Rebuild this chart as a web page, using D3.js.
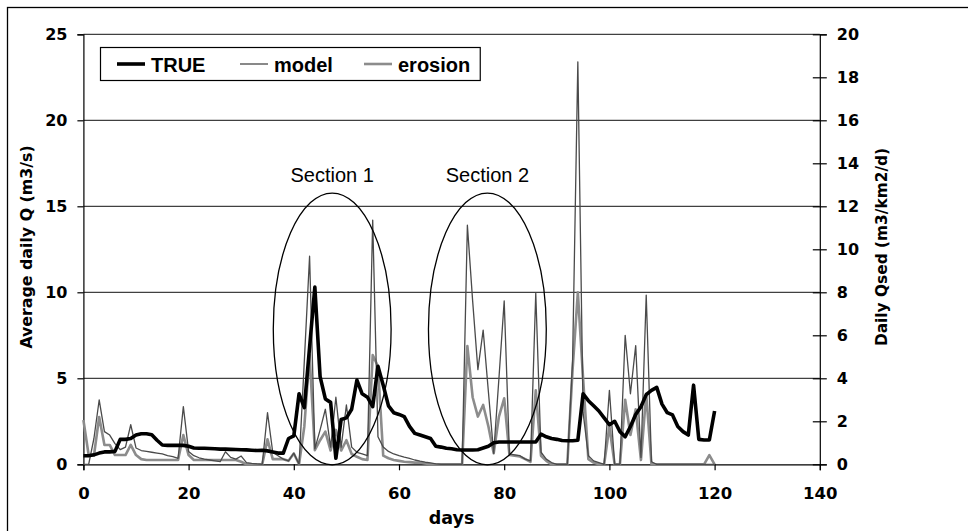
<!DOCTYPE html>
<html>
<head>
<meta charset="utf-8">
<script src="https://cdn.jsdelivr.net/npm/d3@7"></script>
<style>
  body { margin: 0; background: #fff; }
  svg { display: block; }
</style>
</head>
<body>
<div id="chart"></div>
<script>
// daily values, index = day (0..120)
const trueQ = [
  0.5, 0.5, 0.55, 0.65, 0.72, 0.72, 0.75, 1.45, 1.45, 1.5,
  1.7, 1.78, 1.78, 1.72, 1.4, 1.12, 1.1, 1.1, 1.1, 1.1,
  1.05, 0.95, 0.93, 0.93, 0.92, 0.9, 0.88, 0.88, 0.87, 0.86,
  0.85, 0.84, 0.82, 0.8, 0.82, 0.78, 0.72, 0.65, 0.65, 1.5,
  1.65, 4.1, 3.3, 6.8, 10.3, 5.1, 3.8, 3.6, 0.35, 2.6,
  2.7, 3.2, 4.9, 4.1, 3.9, 3.35, 5.7, 4.6, 3.4, 3.0,
  2.9, 2.77, 2.2, 1.8, 1.7, 1.6, 1.5, 1.05, 1.0, 0.93,
  0.9, 0.85, 0.83, 0.83, 0.83, 0.85, 0.95, 1.05, 1.25, 1.3,
  1.3, 1.3, 1.3, 1.3, 1.3, 1.3, 1.3, 1.75, 1.6, 1.5,
  1.45, 1.38, 1.37, 1.37, 1.4, 4.1, 3.7, 3.4, 3.1, 2.7,
  2.3, 2.5, 1.9, 1.6, 2.2, 2.9, 3.35, 4.05, 4.3, 4.47,
  3.5, 3.0, 2.87, 2.2, 1.9, 1.7, 4.6, 1.45, 1.41, 1.41,
  3.1
];

const modelQ = [
  0, 0, 1.5, 3.74, 1.9, 1.7, 1.2, 0.85, 1.0, 2.3,
  0.95, 0.8, 0.75, 0.7, 0.65, 0.6, 0.5, 0.45, 0.35, 3.35,
  0.75, 0.5, 0.38, 0.3, 0.25, 0.2, 0.15, 0.73, 0.4, 0.3,
  0.48, 0.1, 0.05, 0.02, 0, 3.0, 0.7, 0.5, 0.3, 0.2,
  0.65, 0, 6, 12.1, 0.9, 2.0, 3.2, 1.0, 3.9, 1.0,
  3.45, 1.0, 0.7, 0.6, 0.5, 14.2, 1.6, 1.0, 0.75, 0.6,
  0.5, 0.42, 0.35, 0.25, 0.18, 0.12, 0.08, 0.03, 0, 0,
  0, 0, 0, 13.9, 9.5, 5.5, 7.8, 4.2, 0.64, 5,
  9.5, 0.6, 0.55, 0.5, 0.3, 0.2, 9.94, 0.7, 0.3, 0.1,
  0, 0, 0, 6, 23.4, 3, 0.5, 0.2, 0.1, 0,
  4.3, 0, 0, 7.5, 4.1, 6.9, 0.4, 9.84, 0.15, 0,
  0, 0, 0, 0, 0, 0, 0, 0, 0, 0,
  0
];

// erosion is on the right axis (m3/km2/d)
const erosionQsed = [
  2.06, 0.43, 0.4, 2.2, 0.9, 0.9, 0.43, 0.43, 0.43, 0.9,
  0.43, 0.24, 0.2, 0.2, 0.2, 0.2, 0.2, 0.2, 0.2, 1.36,
  0.43, 0.2, 0.2, 0.2, 0.2, 0.2, 0.2, 0.2, 0.2, 0.2,
  0.12, 0, 0, 0, 0, 1.16, 0.24, 0.24, 0.24, 0.16,
  0.5, 0, 1.76, 5.08, 0.66, 1.12, 1.52, 0.64, 1.6, 0.64,
  1.12, 0.48, 0.35, 0.24, 0.2, 5.08, 4.56, 0.4, 0.28, 0.2,
  0.16, 0.12, 0.1, 0.08, 0.08, 0.04, 0, 0, 0, 0,
  0, 0, 0, 5.5, 3.12, 2.22, 2.76, 1.76, 0.51, 2.22,
  3.07, 0.43, 0.4, 0.36, 0.24, 0.11, 3.44, 0.4, 0.16, 0,
  0, 0, 0, 4.4, 8.0, 4.0, 0.24, 0.08, 0, 0,
  1.76, 0, 0, 3.0, 1.36, 2.56, 0.2, 3.28, 0, 0,
  0, 0, 0, 0, 0, 0, 0, 0, 0, 0.43,
  0
];

const xTicks = [0, 20, 40, 60, 80, 100, 120, 140];
const yLeftTicks = [0, 5, 10, 15, 20, 25];
const yRightTicks = [0, 2, 4, 6, 8, 10, 12, 14, 16, 18, 20];

const seriesNames = ["TRUE", "model", "erosion"];

// annotated sections: centre (day, Q) and radii (days, Q)
const sectionLabels = ["Section 1", "Section 2"];
const sectionCenterDay = [47.3, 76.8];
const sectionCenterQ = [7.87, 7.87];
const sectionRadiusDay = [11.2, 11.2];
const sectionRadiusQ = [7.9, 7.9];

const W = 968, H = 531;
const plotLeft = 83.4, plotRight = 819.8, plotTop = 34.3, plotBottom = 464.3;

const numFont = "'DejaVu Sans', sans-serif";
const txtFont = "'Liberation Sans', Arial, sans-serif";

const svg = d3.select("#chart").append("svg")
  .attr("width", W).attr("height", H);

// outer frame (runs off the right and bottom edge)
svg.append("rect")
  .attr("x", 7.5).attr("y", 7.5)
  .attr("width", 1000).attr("height", 600)
  .attr("fill", "none").attr("stroke", "#000").attr("stroke-width", 1.3);

const x = d3.scaleLinear().domain([0, 140]).range([plotLeft, plotRight]);
const yL = d3.scaleLinear().domain([0, 25]).range([plotBottom, plotTop]);
const yR = d3.scaleLinear().domain([0, 20]).range([plotBottom, plotTop]);

// gridlines
svg.append("g").selectAll("line")
  .data(yLeftTicks.filter(d => d > 0))
  .enter().append("line")
  .attr("x1", plotLeft).attr("x2", plotRight)
  .attr("y1", d => yL(d)).attr("y2", d => yL(d))
  .attr("stroke", "#111").attr("stroke-width", 1);

// left axis
const gL = svg.append("g")
  .attr("transform", `translate(${plotLeft},0)`)
  .call(d3.axisLeft(yL).tickValues(yLeftTicks).tickSize(6).tickPadding(10));

// right axis with crossing ticks
const gR = svg.append("g")
  .attr("transform", `translate(${plotRight},0)`)
  .call(d3.axisRight(yR).tickValues(yRightTicks).tickSize(7).tickPadding(10));
gR.selectAll(".tick line").attr("x1", -7).attr("x2", 7);

// bottom axis
const gB = svg.append("g")
  .attr("transform", `translate(0,${plotBottom})`)
  .call(d3.axisBottom(x).tickValues(xTicks).tickSize(6).tickPadding(17));

[gL, gR, gB].forEach(g => {
  g.select(".domain").attr("stroke", "#000").attr("stroke-width", 1.2);
  g.selectAll(".tick line").attr("stroke", "#000").attr("stroke-width", 1.2);
  g.selectAll(".tick text")
    .attr("fill", "#000")
    .style("font-family", numFont)
    .style("font-weight", "bold")
    .style("font-size", "16px");
});
gB.selectAll(".tick text").style("font-size", "16.5px");

// axis titles
svg.append("text")
  .attr("transform", `translate(32,247) rotate(-90)`)
  .attr("text-anchor", "middle")
  .style("font-family", numFont).style("font-weight", "bold").style("font-size", "15.8px")
  .text("Average daily Q (m3/s)");

svg.append("text")
  .attr("transform", `translate(887,247) rotate(-90)`)
  .attr("text-anchor", "middle")
  .style("font-family", numFont).style("font-weight", "bold").style("font-size", "15.4px")
  .text("Daily Qsed (m3/km2/d)");

svg.append("text")
  .attr("x", (plotLeft + plotRight) / 2).attr("y", 524)
  .attr("text-anchor", "middle")
  .style("font-family", numFont).style("font-weight", "bold").style("font-size", "17.5px")
  .text("days");

// series
const lineL = d3.line().x((d, i) => x(i)).y(d => yL(d));
const lineR = d3.line().x((d, i) => x(i)).y(d => yR(d));

const styles = {
  TRUE: { stroke: "#000", width: 3.6 },
  model: { stroke: "#4a4a4a", width: 1.3 },
  erosion: { stroke: "#8c8c8c", width: 2.6 }
};

svg.append("path").datum(erosionQsed)
  .attr("d", lineR).attr("fill", "none")
  .attr("stroke", styles.erosion.stroke).attr("stroke-width", styles.erosion.width)
  .attr("stroke-linejoin", "round");

svg.append("path").datum(modelQ)
  .attr("d", lineL).attr("fill", "none")
  .attr("stroke", styles.model.stroke).attr("stroke-width", styles.model.width)
  .attr("stroke-linejoin", "round");

svg.append("path").datum(trueQ)
  .attr("d", lineL).attr("fill", "none")
  .attr("stroke", styles.TRUE.stroke).attr("stroke-width", styles.TRUE.width)
  .attr("stroke-linejoin", "round");

// section ellipses + labels
sectionLabels.forEach((label, i) => {
  const cx = x(sectionCenterDay[i]);
  const cy = yL(sectionCenterQ[i]);
  svg.append("ellipse")
    .attr("cx", cx).attr("cy", cy)
    .attr("rx", x(sectionRadiusDay[i]) - x(0))
    .attr("ry", yL(0) - yL(sectionRadiusQ[i]))
    .attr("fill", "none").attr("stroke", "#000").attr("stroke-width", 1.3);
  svg.append("text")
    .attr("x", cx).attr("y", yL(16.4))
    .attr("text-anchor", "middle")
    .style("font-family", txtFont).style("font-size", "20px")
    .text(label);
});

// legend
const legend = svg.append("g");
const legendX = [117, 240, 364];
const legendBox = legend.append("rect")
  .attr("x", 100.5).attr("y", 47.5).attr("height", 33).attr("width", 380)
  .attr("fill", "#fff").attr("stroke", "#000").attr("stroke-width", 1.2);

let lastEnd = 0;
seriesNames.forEach((name, i) => {
  const st = styles[name];
  legend.append("line")
    .attr("x1", legendX[i]).attr("x2", legendX[i] + 28)
    .attr("y1", 64).attr("y2", 64)
    .attr("stroke", st.stroke).attr("stroke-width", st.width);
  const t = legend.append("text")
    .attr("x", legendX[i] + 34).attr("y", 72)
    .style("font-family", txtFont).style("font-weight", "bold").style("font-size", "20px")
    .text(name);
  lastEnd = legendX[i] + 34 + t.node().getComputedTextLength();
});
legendBox.attr("width", lastEnd + 10 - 100.5);
</script>
</body>
</html>
